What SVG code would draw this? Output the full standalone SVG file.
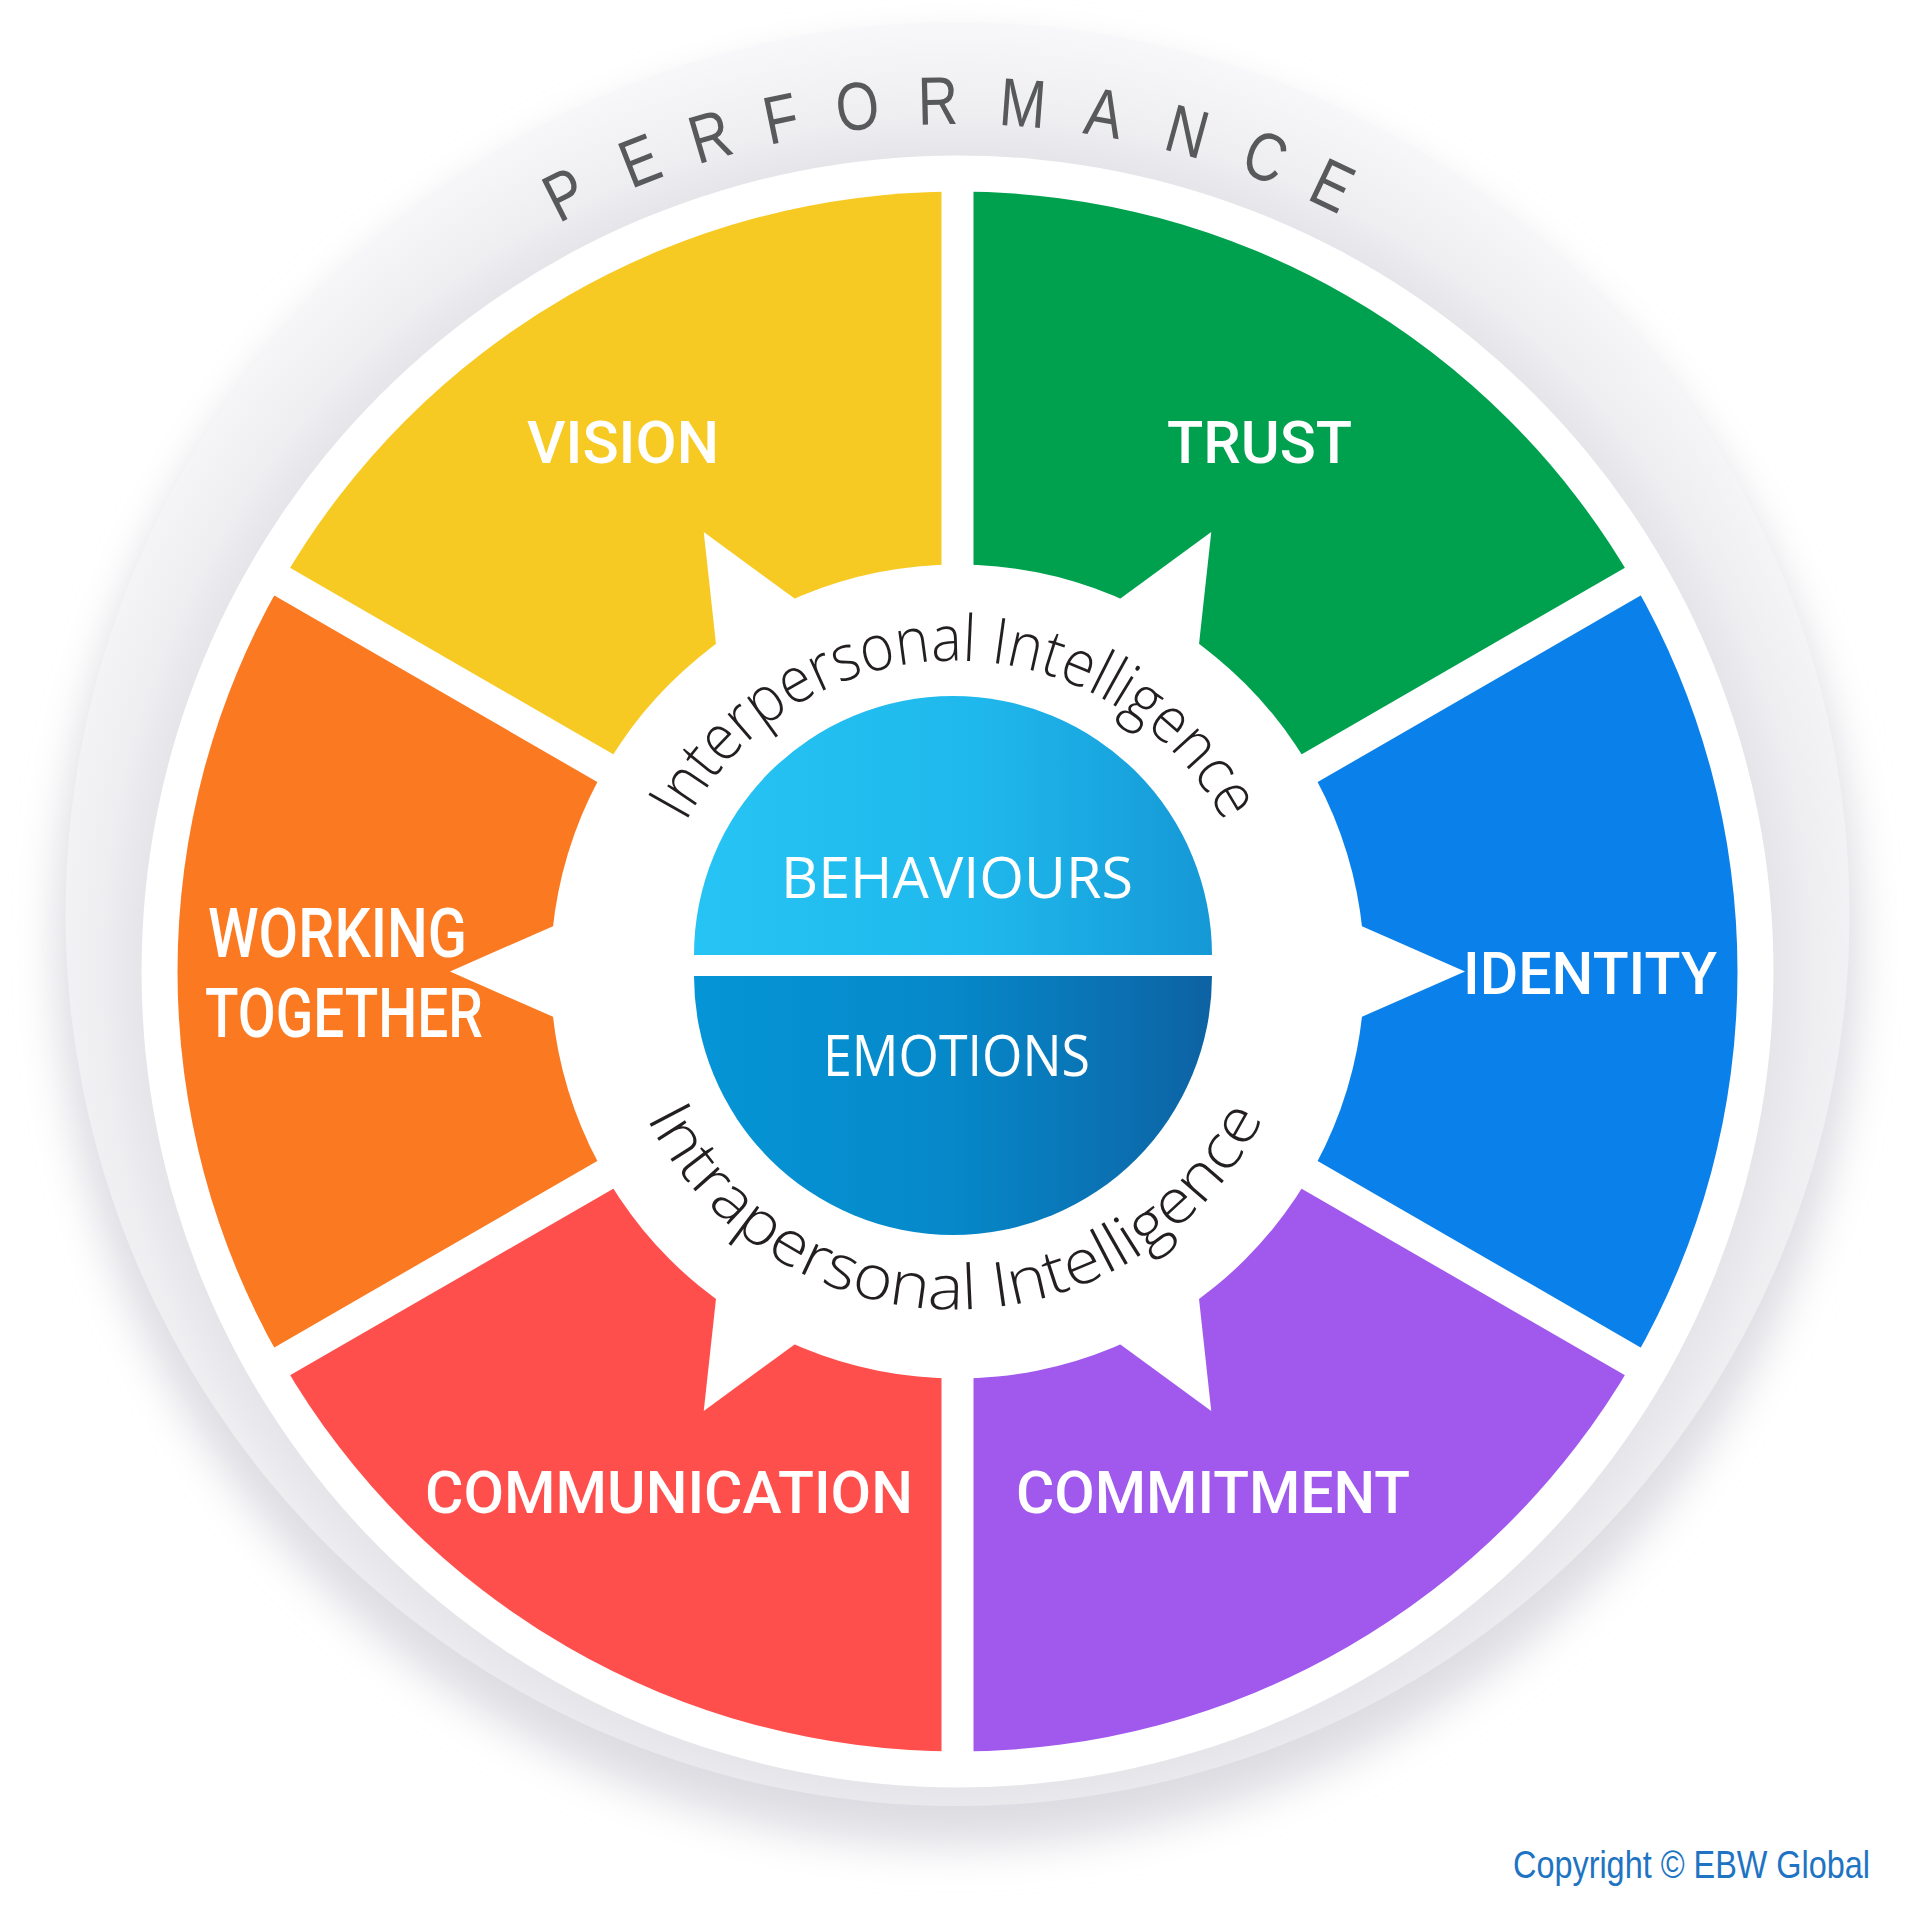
<svg xmlns="http://www.w3.org/2000/svg" xmlns:xlink="http://www.w3.org/1999/xlink" width="1920" height="1920" viewBox="0 0 1920 1920">
<style>
.seg-label{font-family:Roboto,"Liberation Sans",sans-serif;font-weight:500;font-size:60px;fill:#ffffff;}
.big-label{font-family:Roboto,"Liberation Sans",sans-serif;font-weight:500;font-size:69px;fill:#ffffff;}
.core-label{font-family:"Open Sans","Noto Sans",sans-serif;font-weight:400;font-size:57px;fill:#ffffff;}
.arc-label{font-family:"Open Sans","Noto Sans",sans-serif;font-weight:350;fill:#231f20;}
.perf{font-family:"Liberation Sans",Arial,sans-serif;font-size:68px;fill:#58595b;text-anchor:middle;}
.copy{font-family:"Liberation Sans",Arial,sans-serif;font-size:39px;fill:#1e74c2;}
</style>
<defs>
<filter id="soft" x="-10%" y="-10%" width="120%" height="120%"><feGaussianBlur stdDeviation="22"/></filter>
<radialGradient id="grayGrad" gradientUnits="userSpaceOnUse" cx="957.5" cy="971.5" r="950">
<stop offset="0.86" stop-color="#e5e5ea"/>
<stop offset="0.9" stop-color="#eeeef1"/>
<stop offset="1" stop-color="#f8f8fa"/>
</radialGradient>
<linearGradient id="topGrad" x1="0" y1="0" x2="1" y2="0">
<stop offset="0" stop-color="#26c4f4"/>
<stop offset="0.55" stop-color="#1fb8ec"/>
<stop offset="1" stop-color="#1598d6"/>
</linearGradient>
<linearGradient id="botGrad" x1="0" y1="0" x2="1" y2="0">
<stop offset="0" stop-color="#0595d6"/>
<stop offset="0.5" stop-color="#0688c9"/>
<stop offset="1" stop-color="#0d62a3"/>
</linearGradient>
<polygon id="spike" points="1465,971.5 1361.96,926.13 1300,932 1300,1011 1361.96,1016.87"/>
<line id="gapLine" x1="957.5" y1="161.5" x2="957.5" y2="1781.5" stroke-width="32"/>
<mask id="wheelMask" maskUnits="userSpaceOnUse" x="0" y="0" width="1920" height="1920">
<rect x="0" y="0" width="1920" height="1920" fill="#fff"/>
<g fill="#000" stroke="#000">
<use href="#gapLine"/>
<use href="#gapLine" transform="rotate(60 957.5 971.5)"/>
<use href="#gapLine" transform="rotate(-60 957.5 971.5)"/>
</g>
<g fill="#000">
<circle cx="957.5" cy="971.5" r="407"/>
<use href="#spike"/>
<use href="#spike" transform="rotate(-60 957.5 971.5)"/>
<use href="#spike" transform="rotate(-120 957.5 971.5)"/>
<use href="#spike" transform="rotate(180 957.5 971.5)"/>
<use href="#spike" transform="rotate(120 957.5 971.5)"/>
<use href="#spike" transform="rotate(60 957.5 971.5)"/>
</g>
</mask>
<path id="arcTop" d="M 650 965.5 A 305 305 0 0 1 1260 965.5"/>
<path id="arcBot" d="M 611 965.5 A 344 344 0 0 0 1299 965.5"/>
</defs>

<rect x="0" y="0" width="1920" height="1920" fill="#ffffff"/>

<g id="background">
<circle cx="957.5" cy="945" r="900" fill="#dcdce2" filter="url(#soft)"/>
<circle cx="957.5" cy="914" r="892" fill="url(#grayGrad)"/>
<circle cx="957.5" cy="971.5" r="816" fill="#ffffff"/>
</g>

<g id="performance">
<text class="perf" transform="rotate(-26.8 957.5 971.5) translate(957.5 124) scale(0.82 1)">P</text>
<text class="perf" transform="rotate(-21.4 957.5 971.5) translate(957.5 124) scale(0.82 1)">E</text>
<text class="perf" transform="rotate(-16.5 957.5 971.5) translate(957.5 124) scale(0.82 1)">R</text>
<text class="perf" transform="rotate(-11.7 957.5 971.5) translate(957.5 124) scale(0.82 1)">F</text>
<text class="perf" transform="rotate(-6.6 957.5 971.5) translate(957.5 124) scale(0.82 1)">O</text>
<text class="perf" transform="rotate(-1.3 957.5 971.5) translate(957.5 124) scale(0.82 1)">R</text>
<text class="perf" transform="rotate(4.3 957.5 971.5) translate(957.5 124) scale(0.82 1)">M</text>
<text class="perf" transform="rotate(9.7 957.5 971.5) translate(957.5 124) scale(0.82 1)">A</text>
<text class="perf" transform="rotate(15.3 957.5 971.5) translate(957.5 124) scale(0.82 1)">N</text>
<text class="perf" transform="rotate(20.7 957.5 971.5) translate(957.5 124) scale(0.82 1)">C</text>
<text class="perf" transform="rotate(25.5 957.5 971.5) translate(957.5 124) scale(0.82 1)">E</text>
</g>

<g id="trust">
<path d="M 957.5 971.5 L 1633 581.5 A 780 780 0 0 0 957.5 191.5 Z" fill="#00a14e" mask="url(#wheelMask)"/>
<text class="seg-label" x="1167" y="463" textLength="185" lengthAdjust="spacingAndGlyphs">TRUST</text>
</g>
<g id="vision">
<path d="M 957.5 971.5 L 957.5 191.5 A 780 780 0 0 0 282 581.5 Z" fill="#f7c923" mask="url(#wheelMask)"/>
<text class="seg-label" x="527" y="463" textLength="192" lengthAdjust="spacingAndGlyphs">VISION</text>
</g>
<g id="working-together">
<path d="M 957.5 971.5 L 282 581.5 A 780 780 0 0 0 282 1361.5 Z" fill="#fa7921" mask="url(#wheelMask)"/>
<text class="big-label" x="208" y="957" textLength="259" lengthAdjust="spacingAndGlyphs">WORKING</text>
<text class="big-label" x="205" y="1037" textLength="278" lengthAdjust="spacingAndGlyphs">TOGETHER</text>
</g>
<g id="communication">
<path d="M 957.5 971.5 L 282 1361.5 A 780 780 0 0 0 957.5 1751.5 Z" fill="#ff4f4c" mask="url(#wheelMask)"/>
<text class="seg-label" x="425" y="1513" textLength="488" lengthAdjust="spacingAndGlyphs">COMMUNICATION</text>
</g>
<g id="commitment">
<path d="M 957.5 971.5 L 957.5 1751.5 A 780 780 0 0 0 1633 1361.5 Z" fill="#a158ed" mask="url(#wheelMask)"/>
<text class="seg-label" x="1016" y="1513" textLength="394" lengthAdjust="spacingAndGlyphs">COMMITMENT</text>
</g>
<g id="identity">
<path d="M 957.5 971.5 L 1633 1361.5 A 780 780 0 0 0 1633 581.5 Z" fill="#0a81ea" mask="url(#wheelMask)"/>
<text class="seg-label" x="1463" y="994" textLength="254" lengthAdjust="spacingAndGlyphs">IDENTITY</text>
</g>

<g id="behaviours">
<path d="M 694 955 A 259 259 0 0 1 1212 955 Z" fill="url(#topGrad)"/>
<text class="core-label" x="781" y="898" textLength="352" lengthAdjust="spacingAndGlyphs">BEHAVIOURS</text>
</g>
<g id="emotions">
<path d="M 694 976 A 259 259 0 0 0 1212 976 Z" fill="url(#botGrad)"/>
<text class="core-label" x="823" y="1076" textLength="267" lengthAdjust="spacingAndGlyphs">EMOTIONS</text>
</g>

<g id="interpersonal">
<text class="arc-label" font-size="64"><textPath href="#arcTop" startOffset="50%" text-anchor="middle" textLength="660" lengthAdjust="spacingAndGlyphs">Interpersonal Intelligence</textPath></text>
</g>
<g id="intrapersonal">
<text class="arc-label" font-size="62"><textPath href="#arcBot" startOffset="50%" text-anchor="middle" textLength="765" lengthAdjust="spacingAndGlyphs">Intrapersonal Intelligence</textPath></text>
</g>

<g id="copyright">
<text class="copy" x="1513" y="1878" textLength="357" lengthAdjust="spacingAndGlyphs">Copyright © EBW Global</text>
</g>
</svg>
